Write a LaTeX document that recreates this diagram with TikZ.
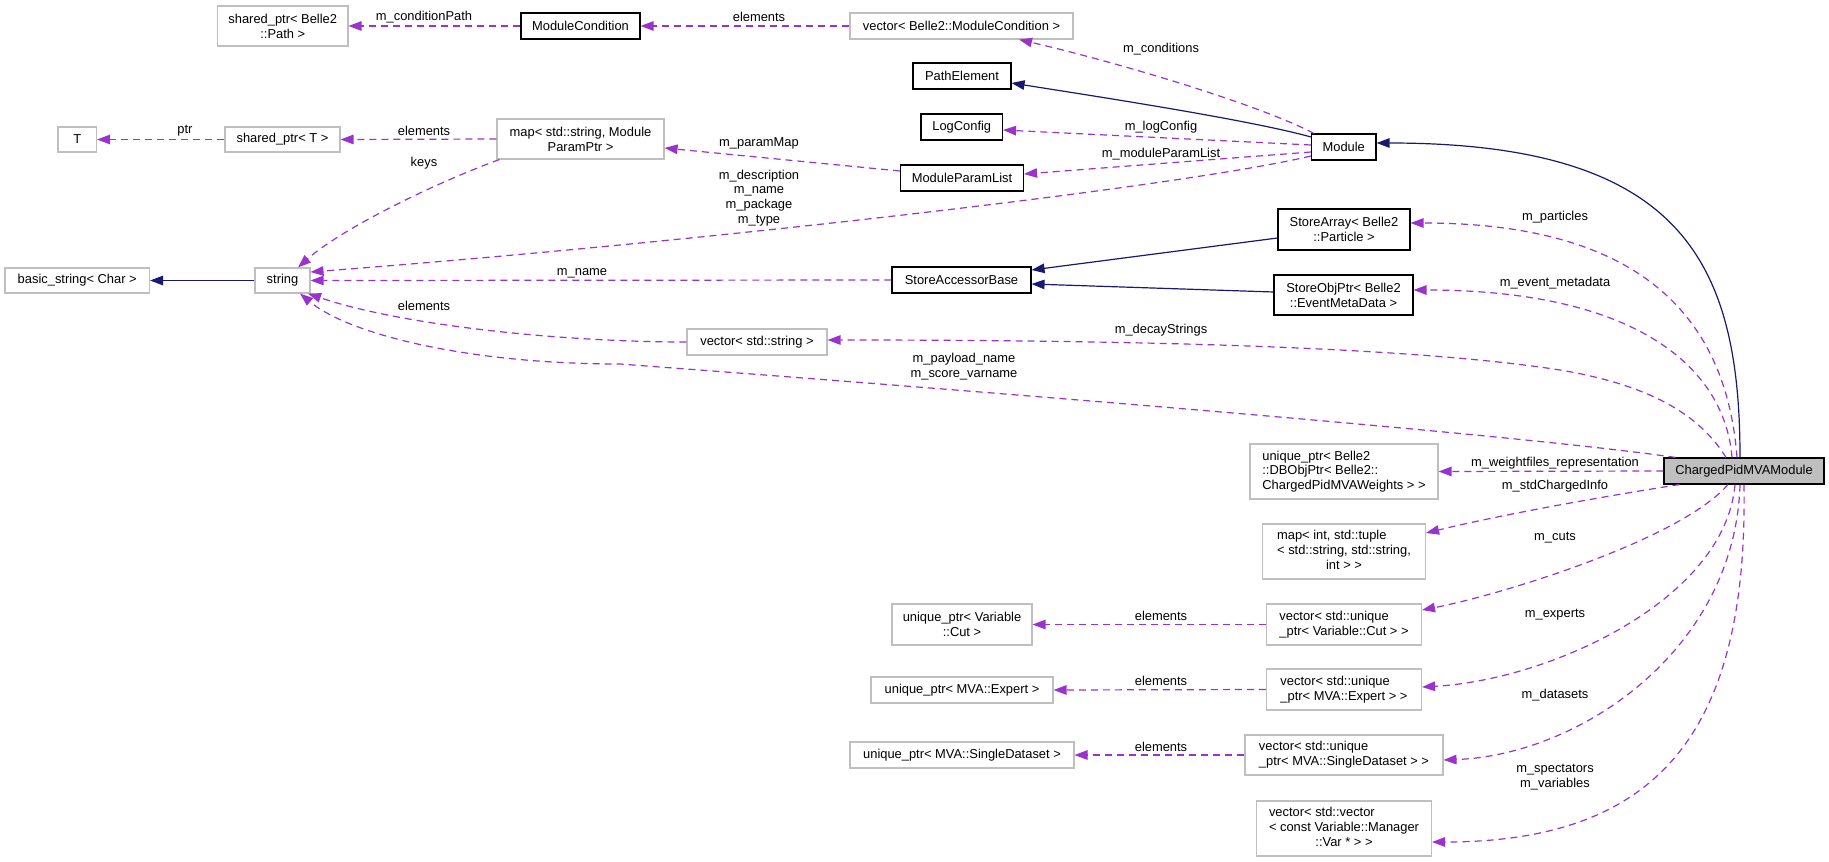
\documentclass[tikz,border=0pt]{standalone}
\usepackage{fontspec}
\setmainfont{Liberation Sans}
\usetikzlibrary{arrows.meta}
\definecolor{boxgray}{HTML}{BFBFBF}
\definecolor{usecol}{HTML}{9A32CD}
\definecolor{inhcol}{HTML}{191970}
\definecolor{mainfill}{HTML}{BFBFBF}
\begin{document}
\begin{tikzpicture}[x=1pt,y=-1pt,
  every node/.style={font=\fontsize{12.9}{14.8}\selectfont, inner sep=0pt},
  gbox/.style={draw=boxgray, line width=1.1pt, fill=white, align=center},
  kbox/.style={draw=black, line width=1.1pt, fill=white, align=center},
  sz/.style 2 args={minimum width=#1pt, minimum height=#2pt},
  use/.style={draw=usecol, line width=1.2pt, dash pattern=on 7pt off 5pt, -{Triangle[length=13pt,width=9.5pt]}},
  inh/.style={draw=inhcol, line width=1.2pt, -{Triangle[length=13pt,width=9.5pt]}},
  lab/.style={align=center},
]
\fill[white] (0,0) rectangle (1829,862);
\useasboundingbox (0,0) rectangle (1829,862);

% nodes
\node[gbox, sz={130.5}{40}] (spPath) at (282.75,26) {shared\_ptr< Belle2\\::Path >};
\node[kbox, sz={119}{26}] (MC) at (580.5,26) {ModuleCondition};
\node[gbox, sz={223}{26}] (vecMC) at (961.5,26) {vector< Belle2::ModuleCondition >};
\node[gbox, sz={38.5}{25}] (T) at (77.25,139.5) {T};
\node[gbox, sz={115}{25}] (spT) at (282.5,139.5) {shared\_ptr< T >};
\node[gbox, sz={167}{40}] (map) at (580.5,139) {map< std::string, Module\\ParamPtr >};
\node[kbox, sz={98}{26}] (PE) at (962,76) {PathElement};
\node[kbox, sz={81.5}{26}] (LC) at (961.75,127) {LogConfig};
\node[kbox, sz={123}{26}] (MPL) at (962,178) {ModuleParamList};
\node[kbox, sz={64.5}{26}] (Module) at (1343.75,147) {Module};
\node[gbox, sz={144.5}{25}] (basic) at (77.25,280.5) {basic\_string< Char >};
\node[gbox, sz={55}{25}] (string) at (282.5,280.5) {string};
\node[kbox, sz={139}{26}] (SAB) at (961.5,280) {StoreAccessorBase};
\node[kbox, sz={132}{41}] (SA) at (1344,229.5) {StoreArray< Belle2\\::Particle >};
\node[kbox, sz={139}{40}] (SOP) at (1343.5,295) {StoreObjPtr< Belle2\\::EventMetaData >};
\node[gbox, sz={140}{26}] (vecStr) at (757,342) {vector< std::string >};
\node[kbox, fill=mainfill, sz={160}{26}] (CP) at (1744,471) {ChargedPidMVAModule};
\node[gbox, sz={188}{55}, align=left] (upDB) at (1344,471.5) {unique\_ptr< Belle2\\::DBObjPtr< Belle2::\\ChargedPidMVAWeights > >};
\node[gbox, sz={163}{55}] (mapT) at (1344,551.5) {\begin{tabular}{@{}l@{}}map< int, std::tuple\\< std::string, std::string,\\\multicolumn{1}{@{}c@{}}{int > >}\end{tabular}};
\node[gbox, sz={140}{41}] (upCut) at (962,624.5) {unique\_ptr< Variable\\::Cut >};
\node[gbox, sz={155}{41}, align=left] (vecCut) at (1344,624.5) {vector< std::unique\\\_ptr< Variable::Cut > >};
\node[gbox, sz={182}{26}] (upExp) at (962,690) {unique\_ptr< MVA::Expert >};
\node[gbox, sz={155}{41}, align=left] (vecExp) at (1344,689.5) {vector< std::unique\\\_ptr< MVA::Expert > >};
\node[gbox, sz={224}{26}] (upSD) at (962,755) {unique\_ptr< MVA::SingleDataset >};
\node[gbox, sz={198}{40}, align=left] (vecSD) at (1344,755) {vector< std::unique\\\_ptr< MVA::SingleDataset > >};
\node[gbox, sz={175}{55}] (vecVec) at (1344,828.5) {\begin{tabular}{@{}l@{}}vector< std::vector\\< const Variable::Manager\\\multicolumn{1}{@{}c@{}}{::Var * > >}\end{tabular}};

% edges
\draw[use] (MC.west) -- (spPath.east);
\draw[use] (vecMC.west) -- (MC.east);
\draw[use] ([xshift=3pt]Module.north west) .. controls (1260,105) and (1120,63) .. ([xshift=57.5pt]vecMC.south);
\draw[inh] ([yshift=10pt]Module.west) .. controls (1250,120) and (1100,97) .. ([yshift=-7pt]PE.east);
\draw[use] ([yshift=2pt]Module.west) -- ([yshift=-3pt]LC.east);
\draw[use] ([yshift=-5pt]Module.west) -- ([yshift=4pt]MPL.east);
\draw[use] ([yshift=-9pt]Module.west) .. controls (1180,187) and (700,242) .. ([yshift=8.5pt]string.east);
\draw[use] ([yshift=7pt]MPL.west) -- ([yshift=-9pt]map.east);
\draw[use] (map.west) -- (spT.east);
\draw[use] (spT.west) -- (T.east);
\draw[use] ([xshift=3pt]map.south west) .. controls (430,185) and (340,230) .. ([xshift=15.5pt]string.north);
\draw[inh] (string.west) -- (basic.east);
\draw[use] (SAB.west) -- (string.east);
\draw[inh] ([yshift=-8.5pt]SA.west) -- ([yshift=10pt]SAB.east);
\draw[inh] ([yshift=3pt]SOP.west) -- ([yshift=-4pt]SAB.east);
\draw[inh] ([xshift=-4pt]CP.north) .. controls (1740,260) and (1680,143) .. ([yshift=4pt]Module.east);
\draw[use] ([xshift=-7pt]CP.north) .. controls (1725,300) and (1620,223) .. ([yshift=6.5pt]SA.east);
\draw[use] ([xshift=-12pt]CP.north) .. controls (1725,370) and (1640,290) .. ([yshift=5pt]SOP.east);
\draw[use] ([xshift=-18pt]CP.north) .. controls (1700,415) and (1650,385) .. (1560,370) .. controls (1400,345) and (1100,340) .. ([yshift=2pt]vecStr.east);
\draw[use] (vecStr.west) .. controls (560,342) and (400,325) .. ([xshift=25.5pt]string.south);
\draw[use] ([xshift=12pt]CP.north west) .. controls (1500,432) and (900,385) .. (620,364) .. controls (470,364) and (350,335) .. ([xshift=17.5pt]string.south);
\draw[use] (CP.west) -- (upDB.east);
\draw[use] ([xshift=16pt]CP.south west) .. controls (1600,497) and (1500,515) .. ([yshift=18.5pt]mapT.east);
\draw[use] ([xshift=-16pt]CP.south) .. controls (1680,540) and (1500,595) .. ([yshift=14.5pt]vecCut.east);
\draw[use] (vecCut.west) -- (upCut.east);
\draw[use] ([xshift=-9pt]CP.south) .. controls (1725,600) and (1550,680) .. ([yshift=2.5pt]vecExp.east);
\draw[use] (vecExp.west) -- (upExp.east);
\draw[use] ([xshift=-4pt]CP.south) .. controls (1735,650) and (1580,755) .. ([yshift=-5pt]vecSD.east);
\draw[use] (vecSD.west) -- (upSD.east);
\draw[use] (CP.south) .. controls (1748,730) and (1660,842) .. ([yshift=-13.5pt]vecVec.east);

% labels
\node[lab] (l1) at (424,17) {m\_conditionPath};
\node[lab] (l2) at (759,17) {elements};
\node[lab] (l3) at (1161,49) {m\_conditions};
\node[lab] (l4) at (1161,127) {m\_logConfig};
\node[lab] (l5) at (1161,154) {m\_moduleParamList};
\node[lab] (l6) at (759,143) {m\_paramMap};
\node[lab] (l7) at (759,198) {m\_description\\m\_name\\m\_package\\m\_type};
\node[lab] (l8) at (185,131) {ptr};
\node[lab] (l9) at (424,131) {elements};
\node[lab] (l10) at (424,163) {keys};
\node[lab] (l11) at (582,273) {m\_name};
\node[lab] (l12) at (424,306) {elements};
\node[lab] (l13) at (1161,330) {m\_decayStrings};
\node[lab] (l14) at (964,366.5) {m\_payload\_name\\m\_score\_varname};
\node[lab] (l15) at (1555,217) {m\_particles};
\node[lab] (l16) at (1555,283) {m\_event\_metadata};
\node[lab] (l17) at (1555,463) {m\_weightfiles\_representation};
\node[lab] (l18) at (1555,486) {m\_stdChargedInfo};
\node[lab] (l19) at (1555,538) {m\_cuts};
\node[lab] (l20) at (1555,615) {m\_experts};
\node[lab] (l21) at (1555,695) {m\_datasets};
\node[lab] (l22) at (1555,777.5) {m\_spectators\\m\_variables};
\node[lab] (l23) at (1161,616) {elements};
\node[lab] (l24) at (1161,681) {elements};
\node[lab] (l25) at (1161,747) {elements};
\end{tikzpicture}
\end{document}
